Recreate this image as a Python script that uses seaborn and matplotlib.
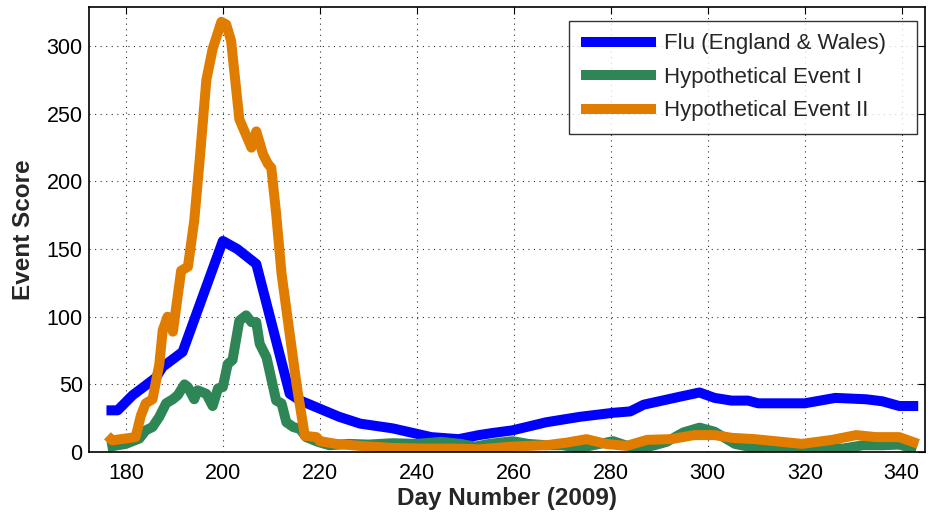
import numpy as np
import pandas as pd
import matplotlib
matplotlib.use("Agg")
import matplotlib.pyplot as plt
import seaborn as sns

# ---- data ----
flu_day = [176, 178.3, 181.4, 184, 186.2, 187.6, 191.7, 200, 203, 206.9, 213.8, 216, 220,
           224, 228.3, 235, 243, 248.6, 252.8, 255.5, 259.7, 266.7, 273.6, 280.5, 284,
           286.8, 294.4, 298.3, 301.4, 304.9, 308.3, 310.4, 320, 326.3, 332.6, 336,
           339.5, 343.4]
flu_val = [30.8, 30.8, 42, 49, 55, 63, 74, 156, 150, 139, 43, 38, 32,
           26, 21, 17.5, 11, 9.5, 12.5, 14, 16, 22, 26, 29, 30,
           35, 41, 44, 40, 38, 38, 36, 36, 40, 39, 37.5,
           34, 34]

ev1_day = [176.2, 180, 182.8, 184.1, 185.5, 186.9, 188.3, 189.7, 190.7, 192.1, 192.8,
           194.1, 194.8, 196.6, 197.9, 199, 200, 201, 202, 203.4, 204.8, 205.9, 206.9,
           207.6, 209, 211, 212.1, 213.1, 214.5, 215.9, 217.2, 219.7, 222, 226, 230,
           235, 240, 245, 249, 252, 255, 259.7, 263, 266.7, 270, 273.6, 277, 280.5,
           283, 286, 289, 291.5, 295, 298.3, 301.4, 305.6, 309.7, 312, 315.3, 319.4,
           323.6, 327.8, 332, 336, 339.5, 343]
ev1_val = [3.7, 6, 10, 16, 18.5, 26, 36, 39, 42, 50, 48,
           39, 45.6, 43, 34, 47, 48, 65, 68, 97, 101, 96, 96,
           80, 70, 38, 36, 22, 18.5, 17, 11, 7.4, 5, 6, 5.5,
           6.5, 6, 7.5, 6, 4, 6, 8, 6, 5, 5, 3, 5.5, 8,
           5, 2.5, 5, 7.5, 14.5, 18, 15, 6, 3, 4, 4, 1,
           4, 2.5, 5, 5, 5.5, 2]

ev2_day = [176.2, 177.2, 180, 182, 183.1, 184.1, 185.5, 186.9, 187.6, 188.6, 189.7,
           191.4, 192.8, 194.1, 195.2, 196.6, 197.9, 199.7, 200.7, 201.7, 203.4, 205.9,
           206.9, 208.3, 209.3, 210, 211, 212.1, 213.8, 215.2, 216.9, 219.3, 220,
           223.4, 228.3, 235, 242, 248.6, 252.8, 259.7, 266.7, 271, 275, 279, 283.2,
           287.5, 292.4, 297.2, 301.4, 304.9, 309.7, 315.3, 319.4, 325.7, 330.6,
           334.7, 339.5, 343.4]
ev2_val = [12, 8.6, 10, 11, 27, 36, 39, 65, 90, 100, 89,
           134, 137, 171, 215, 275, 298, 318, 316, 304, 246, 225,
           237, 220, 213, 210, 176, 132, 87, 50, 12, 11, 8,
           6, 4.5, 3, 2.5, 2.5, 2, 4, 5, 7, 9.5, 6, 4.5,
           9, 9.5, 12.5, 12.5, 10.5, 9.5, 7.5, 6, 9, 12.5,
           11, 11, 6]

labels = ["Flu (England & Wales)", "Hypothetical Event I", "Hypothetical Event II"]
colors = ["#0000FF", "#2E8555", "#E07D00"]

x_ticks = [180, 200, 220, 240, 260, 280, 300, 320, 340]
y_ticks = [0, 50, 100, 150, 200, 250, 300]

# ---- plotting ----
sns.set_style("white")
plt.rcParams["font.family"] = ["Liberation Sans", "DejaVu Sans"]

fig = plt.figure(figsize=(9.29, 5.14), dpi=100)
ax = fig.add_axes([0.0958, 0.1206, 0.8999, 0.8654])

series = [(flu_day, flu_val), (ev1_day, ev1_val), (ev2_day, ev2_val)]
for (d, v), lab, col in zip(series, labels, colors):
    df = pd.DataFrame({"day": d, "score": v})
    sns.lineplot(data=df, x="day", y="score", ax=ax, color=col, linewidth=7.2,
                 label=lab, solid_joinstyle="round", solid_capstyle="butt")

ax.set_xlim(172.4, 344.8)
ax.set_ylim(0, 328.8)
ax.set_xticks(x_ticks)
ax.set_yticks(y_ticks)
ax.tick_params(direction="in", top=True, right=True, labelsize=15.5, length=5,
               width=0.8, colors="black")
ax.tick_params(axis="x", pad=8)
ax.tick_params(axis="y", pad=4.5)
ax.grid(True, linestyle=(0, (1, 4)), color="#333333", linewidth=0.8)
for s in ax.spines.values():
    s.set_visible(True)
    s.set_color("black")
    s.set_linewidth(1.2)

ax.set_xlabel("Day Number (2009)", fontsize=17.5, fontweight="bold", labelpad=2)
ax.set_ylabel("Event Score", fontsize=17.5, fontweight="bold", labelpad=8)

leg = ax.legend(loc="upper left", fontsize=16, frameon=True, fancybox=False,
                edgecolor="black", handlelength=3.35, handletextpad=0.36,
                borderpad=0.55, labelspacing=0.56, borderaxespad=0,
                mode="expand", bbox_to_anchor=(0.574, 0.0, 0.416, 0.9685))
leg.get_frame().set_linewidth(1.0)
for h in leg.get_lines():
    h.set_linewidth(7.2)

fig.savefig("out.png", dpi=100)
